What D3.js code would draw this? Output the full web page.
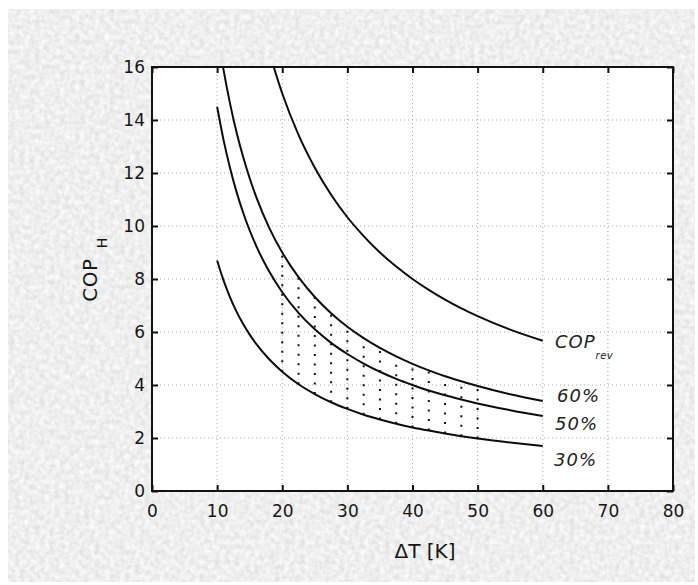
<!doctype html>
<html lang="en">
<head>
<meta charset="utf-8">
<title>COP vs delta T</title>
<script src="https://cdn.jsdelivr.net/npm/d3@7"></script>
<style>
  html, body { margin: 0; padding: 0; background: #fff; }
  svg { display: block; }
  .tick text { font-family: "DejaVu Sans", sans-serif; font-size: 17px; fill: #161616; }
</style>
</head>
<body>
<div id="chart"></div>
<script>
// data
var deltaT = [10, 11, 12, 13, 14, 15, 16, 18, 20, 22.5, 25, 27.5, 30, 32.5, 35, 37.5, 40, 42.5, 45, 47.5, 50, 55, 60];
var copRev = [null, null, null, null, null, null, null, 16.56, 15.0, 13.44, 12.2, 11.18, 10.33, 9.62, 9.0, 8.47, 8.0, 7.59, 7.22, 6.89, 6.6, 6.09, 5.67];
var cop60 = [17.4, 15.87, 14.6, 13.52, 12.6, 11.8, 11.1, 9.93, 9.0, 8.07, 7.32, 6.71, 6.2, 5.77, 5.4, 5.08, 4.8, 4.55, 4.33, 4.14, 3.96, 3.65, 3.4];
var cop50 = [14.5, 13.23, 12.17, 11.27, 10.5, 9.83, 9.25, 8.28, 7.5, 6.72, 6.1, 5.59, 5.17, 4.81, 4.5, 4.23, 4.0, 3.79, 3.61, 3.45, 3.3, 3.05, 2.83];
var cop30 = [8.7, 7.94, 7.3, 6.76, 6.3, 5.9, 5.55, 4.97, 4.5, 4.03, 3.66, 3.35, 3.1, 2.88, 2.7, 2.54, 2.4, 2.28, 2.17, 2.07, 1.98, 1.83, 1.7];
var hatchT = [20, 22.5, 25, 27.5, 30, 32.5, 35, 37.5, 40, 42.5, 45, 47.5, 50];
var xTicks = [0, 10, 20, 30, 40, 50, 60, 70, 80];
var yTicks = [0, 2, 4, 6, 8, 10, 12, 14, 16];

var W = 698, H = 585;
var pL = 152, pR = 673, pT = 67, pB = 491;

var svg = d3.select("#chart").append("svg")
  .attr("width", W).attr("height", H);

// paper-like grey background
var defs = svg.append("defs");
var f = defs.append("filter").attr("id", "paper")
  .attr("x", 0).attr("y", 0).attr("width", "100%").attr("height", "100%");
f.append("feTurbulence").attr("type", "fractalNoise")
  .attr("baseFrequency", 0.2).attr("numOctaves", 3).attr("seed", 3);
f.append("feColorMatrix").attr("type", "matrix")
  .attr("values", "0.32 0 0 0 0.7  0.32 0 0 0 0.7  0.32 0 0 0 0.7  0 0 0 0 1");
defs.append("clipPath").attr("id", "plot")
  .append("rect").attr("x", pL).attr("y", pT)
  .attr("width", pR - pL).attr("height", pB - pT);

svg.append("rect").attr("x", 8).attr("y", 9)
  .attr("width", 687).attr("height", 573)
  .attr("filter", "url(#paper)");

var x = d3.scaleLinear().domain([0, 80]).range([pL, pR]);
var y = d3.scaleLinear().domain([0, 16]).range([pB, pT]);

svg.append("rect").attr("x", pL).attr("y", pT)
  .attr("width", pR - pL).attr("height", pB - pT)
  .attr("fill", "#fff");

// dotted grid
svg.append("g").selectAll("line").data(xTicks.slice(1, -1)).join("line")
  .attr("x1", function (d) { return x(d); }).attr("x2", function (d) { return x(d); })
  .attr("y1", pT).attr("y2", pB)
  .attr("stroke", "#a8a8a8").attr("stroke-width", 1).attr("stroke-dasharray", "1,3");
svg.append("g").selectAll("line").data(yTicks.slice(1, -1)).join("line")
  .attr("y1", function (d) { return y(d); }).attr("y2", function (d) { return y(d); })
  .attr("x1", pL).attr("x2", pR)
  .attr("stroke", "#a8a8a8").attr("stroke-width", 1).attr("stroke-dasharray", "1,3");

// dotted hatching between 30% and 60%
var hatch = hatchT.map(function (t) {
  var i = deltaT.indexOf(t);
  return { t: t, lo: cop30[i], hi: cop60[i] };
});
svg.append("g").selectAll("line").data(hatch).join("line")
  .attr("x1", function (d) { return x(d.t); }).attr("x2", function (d) { return x(d.t); })
  .attr("y1", function (d) { return y(d.lo); }).attr("y2", function (d) { return y(d.hi); })
  .attr("stroke", "#111").attr("stroke-width", 2).attr("stroke-dasharray", "2,7.5");

// curves
var series = [copRev, cop60, cop50, cop30];
var line = d3.line()
  .defined(function (d) { return d[1] != null; })
  .x(function (d) { return x(d[0]); })
  .y(function (d) { return y(d[1]); })
  .curve(d3.curveMonotoneX);
svg.append("g").attr("clip-path", "url(#plot)")
  .selectAll("path").data(series).join("path")
  .attr("d", function (s) { return line(deltaT.map(function (t, i) { return [t, s[i]]; })); })
  .attr("fill", "none").attr("stroke", "#0d0d0d").attr("stroke-width", 2);

// axes: inward ticks on all four sides
var tk = 6;
svg.append("g").attr("transform", "translate(0," + pB + ")")
  .call(d3.axisBottom(x).tickValues(xTicks).tickSizeInner(-tk).tickSizeOuter(0).tickPadding(14));
svg.append("g").attr("transform", "translate(" + pL + ",0)")
  .call(d3.axisLeft(y).tickValues(yTicks).tickSizeInner(-tk).tickSizeOuter(0).tickPadding(7));
svg.append("g").attr("transform", "translate(0," + pT + ")")
  .call(d3.axisTop(x).tickValues(xTicks).tickSizeInner(-tk).tickSizeOuter(0).tickFormat(""));
svg.append("g").attr("transform", "translate(" + pR + ",0)")
  .call(d3.axisRight(y).tickValues(yTicks).tickSizeInner(-tk).tickSizeOuter(0).tickFormat(""));
svg.selectAll(".domain").remove();
svg.selectAll(".tick line").attr("stroke", "#111").attr("stroke-width", 2);

// frame
svg.append("rect").attr("x", pL).attr("y", pT)
  .attr("width", pR - pL).attr("height", pB - pT)
  .attr("fill", "none").attr("stroke", "#111").attr("stroke-width", 2);

// curve labels
var lab = svg.append("g")
  .attr("font-family", "DejaVu Sans, sans-serif")
  .attr("font-style", "italic").attr("fill", "#222");
var cop = lab.append("text").attr("x", 555).attr("y", 348)
  .attr("font-size", 18).attr("letter-spacing", 1);
cop.append("tspan").text("COP");
cop.append("tspan").attr("font-size", 10).attr("dy", 11).attr("letter-spacing", 0.5).text("rev");
lab.append("text").attr("x", 557).attr("y", 402).attr("font-size", 18).attr("letter-spacing", 1).text("60%");
lab.append("text").attr("x", 555).attr("y", 430).attr("font-size", 18).attr("letter-spacing", 1).text("50%");
lab.append("text").attr("x", 554).attr("y", 466).attr("font-size", 18).attr("letter-spacing", 1).text("30%");

// axis titles
svg.append("text").attr("x", 425).attr("y", 558)
  .attr("text-anchor", "middle")
  .attr("font-family", "DejaVu Sans, sans-serif").attr("font-size", 20)
  .attr("fill", "#161616")
  .text("ΔT [K]");
svg.append("text").attr("transform", "translate(97,280) rotate(-90)")
  .attr("text-anchor", "middle")
  .attr("font-family", "DejaVu Sans, sans-serif").attr("font-size", 20)
  .attr("letter-spacing", 0.5).attr("fill", "#161616")
  .text("COP");
svg.append("text").attr("transform", "translate(107,243) rotate(-90)")
  .attr("text-anchor", "middle")
  .attr("font-family", "DejaVu Sans, sans-serif").attr("font-size", 14)
  .attr("fill", "#161616")
  .text("H");
</script>
</body>
</html>
